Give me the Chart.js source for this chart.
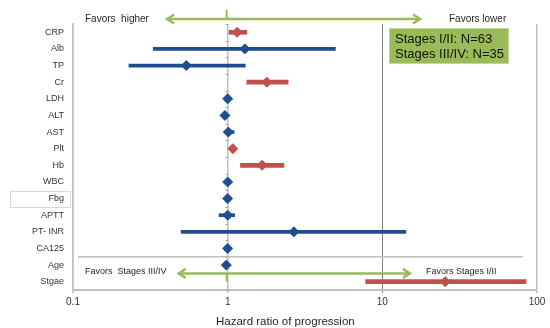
<!DOCTYPE html>
<html>
<head>
<meta charset="utf-8">
<script src="https://cdn.jsdelivr.net/npm/chart.js@4/dist/chart.umd.min.js"></script>
<style>
  html, body { margin: 0; padding: 0; background: #fff; }
  #wrap { width: 550px; height: 328px; }
</style>
</head>
<body>
<div id="wrap"><canvas id="c" width="550" height="328"></canvas></div>
<script>
// Forest plot: hazard ratios of progression with 95% confidence intervals
const categories = ['CRP', 'Alb', 'TP', 'Cr', 'LDH', 'ALT', 'AST', 'Plt', 'Hb', 'WBC', 'Fbg', 'APTT', 'PT- INR', 'CA125', 'Age', 'Stgae'];
const hazardRatio = [1.15, 1.29, 0.54, 1.79, 1.00, 0.96, 1.01, 1.08, 1.67, 1.00, 1.00, 1.00, 2.68, 1.00, 0.98, 25.5];
const ciLower     = [1.02, 0.33, 0.23, 1.33, 0.98, 0.95, 0.96, 1.05, 1.21, 0.98, 0.98, 0.88, 0.50, 0.98, 0.96, 7.8];
const ciUpper     = [1.33, 4.97, 1.30, 2.46, 1.02, 0.98, 1.10, 1.11, 2.31, 1.02, 1.02, 1.11, 14.2, 1.02, 1.00, 85.0];
// significant factors are drawn in red
const significant = [true, false, false, true, false, false, false, true, true, false, false, false, false, false, false, true];
const xTickValues = [0.1, 1, 10, 100];
const xTickLabels = ['0.1', '1', '10', '100'];

const BLUE = '#1f4e8f';
const RED = '#c0504d';
const GREEN = '#9bbb59';
const FONT = "'Liberation Sans', Arial, sans-serif";

const ciFor = (flag) => categories.map((c, i) => significant[i] === flag ? [ciLower[i], ciUpper[i]] : null);
const ptsFor = (flag) => categories.map((c, i) => significant[i] === flag ? { x: hazardRatio[i], y: c } : null).filter(Boolean);

function arrow(ctx, x1, x2, y) {
  ctx.save();
  ctx.strokeStyle = GREEN;
  ctx.lineWidth = 2.5;
  ctx.lineCap = 'butt';
  ctx.beginPath();
  ctx.moveTo(x1 + 1, y); ctx.lineTo(x2 - 1, y);
  ctx.stroke();
  ctx.lineJoin = 'miter';
  ctx.beginPath();
  ctx.moveTo(x1 + 8, y - 4.5); ctx.lineTo(x1 + 1, y); ctx.lineTo(x1 + 8, y + 4.5);
  ctx.moveTo(x2 - 8, y - 4.5); ctx.lineTo(x2 - 1, y); ctx.lineTo(x2 - 8, y + 4.5);
  ctx.stroke();
  ctx.restore();
}

const decorations = {
  id: 'decorations',
  beforeDatasetsDraw(chart) {
    const { ctx, scales: { x, y }, chartArea } = chart;
    const rowH = (chartArea.bottom - chartArea.top) / categories.length;
    const x1 = Math.round(x.getPixelForValue(1)) + 0.5;
    // small ticks along the reference line at HR = 1
    ctx.save();
    ctx.strokeStyle = '#a6a6a6';
    ctx.lineWidth = 1;
    ctx.beginPath();
    for (let k = 0; k <= categories.length; k++) {
      const yy = Math.round(chartArea.top + k * rowH) + 0.5;
      ctx.moveTo(x1 - 3, yy); ctx.lineTo(x1, yy);
    }
    ctx.stroke();
    // separator above the clinical stage rows
    const ySep = chartArea.top + 14 * rowH;
    ctx.strokeStyle = '#bfbfbf';
    ctx.lineWidth = 1.5;
    ctx.beginPath();
    ctx.moveTo(chartArea.left + 5, ySep); ctx.lineTo(chartArea.right - 14, ySep);
    ctx.stroke();
    ctx.restore();
  },
  afterDraw(chart) {
    const { ctx, scales: { x, y }, chartArea } = chart;
    const x1 = x.getPixelForValue(1);
    ctx.save();

    // top arrow
    const yTop = chartArea.top - 5;
    ctx.strokeStyle = GREEN;
    ctx.lineWidth = 2;
    ctx.beginPath();
    ctx.moveTo(x1 - 1, yTop - 9); ctx.lineTo(x1 - 1, yTop);
    ctx.stroke();
    arrow(ctx, x.getPixelForValue(0.4), x.getPixelForValue(17.8), yTop);

    // bottom arrow
    const yBot = (y.getPixelForValue(14) + y.getPixelForValue(15)) / 2;
    ctx.strokeStyle = GREEN;
    ctx.lineWidth = 2;
    ctx.beginPath();
    ctx.moveTo(x1 - 1, yBot); ctx.lineTo(x1 - 1, y.getPixelForValue(15));
    ctx.stroke();
    arrow(ctx, x.getPixelForValue(0.475), x.getPixelForValue(15.3), yBot);

    ctx.fillStyle = '#262626';
    ctx.textBaseline = 'middle';
    ctx.textAlign = 'left';
    ctx.font = '10px ' + FONT;
    ctx.fillText('Favors  higher', 85, yTop);
    ctx.fillText('Favors lower', 449, yTop);
    ctx.font = '9px ' + FONT;
    ctx.fillText('Favors  Stages III/IV', 85, yBot - 2);
    ctx.fillText('Favors Stages I/II', 426, yBot - 2);

    // box round the Fbg label
    const yF = y.getPixelForValue(10);
    ctx.strokeStyle = '#d9d9d9';
    ctx.lineWidth = 1;
    ctx.strokeRect(10.5, Math.round(yF - 8) + 0.5, 60, 16);

    // sample sizes
    ctx.fillStyle = GREEN;
    ctx.fillRect(389, 28, 120, 36);
    ctx.strokeStyle = '#c3d69b';
    ctx.strokeRect(389.5, 28.5, 119, 35);
    ctx.fillStyle = '#111';
    ctx.font = '13px ' + FONT;
    ctx.fillText('Stages I/II: N=63', 395, 39);
    ctx.fillText('Stages III/IV: N=35', 395, 54);

    // axis title
    ctx.fillStyle = '#262626';
    ctx.font = '11.5px ' + FONT;
    ctx.fillText('Hazard ratio of progression', 216, 322);
    ctx.restore();
  }
};

new Chart(document.getElementById('c'), {
  type: 'bar',
  data: {
    labels: categories,
    datasets: [
      { label: 'CI', data: ciFor(false), backgroundColor: BLUE, barThickness: 3, grouped: false, order: 2 },
      { label: 'CI significant', data: ciFor(true), backgroundColor: RED, barThickness: 4, grouped: false, order: 2 },
      { type: 'line', label: 'HR', data: ptsFor(false), showLine: false, pointStyle: 'rectRot',
        pointRadius: 5, backgroundColor: BLUE, borderColor: BLUE, borderWidth: 1, order: 0 },
      { type: 'line', label: 'HR significant', data: ptsFor(true), showLine: false, pointStyle: 'rectRot',
        pointRadius: 5, backgroundColor: RED, borderColor: RED, borderWidth: 1, order: 0 }
    ]
  },
  options: {
    indexAxis: 'y',
    responsive: false,
    animation: false,
    layout: { padding: { left: 0, top: 24, right: 13, bottom: 0 } },
    plugins: { legend: { display: false }, tooltip: { enabled: false } },
    scales: {
      x: {
        type: 'logarithmic',
        min: 0.1,
        max: 100,
        afterBuildTicks: (s) => { s.ticks = xTickValues.map(v => ({ value: v })); },
        afterFit: (s) => { s.height = 38; },
        ticks: {
          autoSkip: false,
          maxRotation: 0,
          padding: 3,
          color: '#333',
          font: { family: FONT, size: 10 },
          callback: (v) => xTickLabels[xTickValues.indexOf(v)] ?? ''
        },
        grid: {
          color: (c) => c.tick && c.tick.value === 10 ? '#7f7f7f' : '#bfbfbf',
          lineWidth: (c) => c.tick && c.tick.value === 10 ? 1 : 1.5,
          tickLength: 3
        },
        border: { color: '#bfbfbf', width: 2 }
      },
      y: {
        type: 'category',
        offset: true,
        afterFit: (s) => { s.width = 73; },
        ticks: {
          autoSkip: false,
          padding: 9,
          color: '#333',
          font: { family: FONT, size: 9 }
        },
        grid: { display: false, drawTicks: false },
        border: { display: true, color: '#bfbfbf', width: 1.5 }
      }
    }
  },
  plugins: [decorations]
});
</script>
</body>
</html>
